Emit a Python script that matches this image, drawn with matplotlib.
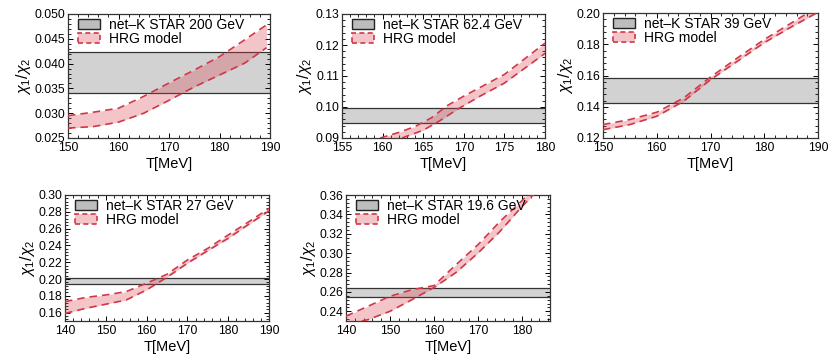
import numpy as np
import matplotlib
matplotlib.use("Agg")
import matplotlib.pyplot as plt
from matplotlib.patches import Patch
from matplotlib.ticker import MultipleLocator, AutoMinorLocator, FormatStrFormatter

plt.rcParams['font.family'] = ['Liberation Sans', 'DejaVu Sans']
plt.rcParams['mathtext.fontset'] = 'custom'
plt.rcParams['mathtext.rm'] = 'Liberation Sans'
plt.rcParams['mathtext.it'] = 'Liberation Sans:italic'

# 200 GeV
T_200 = [150, 155, 160, 165, 170, 175, 180, 185, 189.3]
up_200 = [0.0295, 0.0302, 0.0310, 0.0334, 0.0361, 0.0387, 0.0414, 0.0448, 0.0478]
lo_200 = [0.0270, 0.0273, 0.0282, 0.0300, 0.0326, 0.0353, 0.0377, 0.0401, 0.0432]
band_200 = (0.0340, 0.0423)

# 62.4 GeV
T_62_up = [159.7, 162, 164, 166, 168, 170, 175, 180]
up_62 = [0.0900, 0.0918, 0.0937, 0.0965, 0.1005, 0.1035, 0.1105, 0.1206]
T_62_lo = [162.4, 165, 167, 169.5, 172, 175, 180]
lo_62 = [0.0900, 0.0925, 0.0955, 0.0997, 0.1035, 0.1077, 0.1173]
band_62 = (0.0948, 0.0998)

# 39 GeV
T_39 = [150, 155, 160, 165, 170, 175, 180, 185, 190]
up_39 = [0.1286, 0.1318, 0.1365, 0.1456, 0.1590, 0.1712, 0.1830, 0.1935, 0.2040]
lo_39 = [0.1253, 0.1286, 0.1339, 0.1435, 0.1573, 0.1691, 0.1810, 0.1910, 0.2005]
band_39 = (0.1425, 0.1582)

# 27 GeV
T_27 = [140, 145, 150, 155, 160, 165, 170, 175, 180, 185, 190]
up_27 = [0.173, 0.178, 0.181, 0.185, 0.195, 0.2056, 0.2226, 0.2365, 0.2524, 0.268, 0.284]
lo_27 = [0.159, 0.165, 0.170, 0.175, 0.187, 0.202, 0.2187, 0.2337, 0.2484, 0.265, 0.281]
band_27 = (0.1937, 0.2016)

# 19.6 GeV
T_19_up = [140, 145, 150, 155, 160, 165, 170, 175, 180, 182]
up_19 = [0.235, 0.2452, 0.2555, 0.2623, 0.2665, 0.288, 0.3086, 0.3326, 0.354, 0.364]
T_19_lo = [143.6, 145, 150, 155, 160, 165, 170, 175, 180, 183]
lo_19 = [0.230, 0.2314, 0.240, 0.252, 0.2645, 0.280, 0.300, 0.3223, 0.348, 0.362]
band_19 = (0.2544, 0.2640)

panels = [
    ("net\u2013K STAR 200 GeV", T_200, up_200, T_200, lo_200, band_200, (150, 190), (0.025, 0.050), 10, 0.005),
    ("net\u2013K STAR 62.4 GeV", T_62_up, up_62, T_62_lo, lo_62, band_62, (155, 180), (0.09, 0.13), 5, 0.01),
    ("net\u2013K STAR 39 GeV", T_39, up_39, T_39, lo_39, band_39, (150, 190), (0.12, 0.20), 10, 0.02),
    ("net\u2013K STAR 27 GeV", T_27, up_27, T_27, lo_27, band_27, (140, 190), (0.15, 0.30), 10, 0.02),
    ("net\u2013K STAR 19.6 GeV", T_19_up, up_19, T_19_lo, lo_19, band_19, (140, 186.4), (0.23, 0.36), 10, 0.02),
]

# axes boxes in pixels: left, top, width, height
boxes = [
    (68, 14, 202, 124),
    (342, 14, 203, 124),
    (603, 13, 215, 125),
    (65, 195, 204, 126),
    (346, 195, 204, 126),
]
W, H = 831, 364

red = (0.82, 0.22, 0.28)
pink = (0.85, 0.25, 0.3, 0.3)
gray = '#d2d2d2'
edge = '#333333'

fig = plt.figure(figsize=(W / 100, H / 100), dpi=100)

for (label, tu, yu, tl, yl, band, xl, yl_lim, xstep, ystep), (l, t, w, h) in zip(panels, boxes):
    ax = fig.add_axes([l / W, 1 - (t + h) / H, w / W, h / H])
    ax.axhspan(band[0], band[1], color=gray, zorder=1, lw=0)
    ax.axhline(band[0], color=edge, lw=0.9, zorder=2)
    ax.axhline(band[1], color=edge, lw=0.9, zorder=2)

    # common grid to fill between the two dashed edges
    tt = np.union1d(tu, tl)
    ytop = np.interp(tt, tu, yu, left=np.nan)
    ybot = np.interp(tt, tl, yl, left=yl_lim[0])
    ax.fill_between(tt, ybot, ytop, color=pink, lw=0, zorder=3)
    ax.plot(tu, yu, color=red, lw=1.2, ls=(0, (4.5, 3)), zorder=4)
    ax.plot(tl, yl, color=red, lw=1.2, ls=(0, (4.5, 3)), zorder=4)

    ax.set_xlim(*xl)
    ax.set_ylim(*yl_lim)
    ax.xaxis.set_major_locator(MultipleLocator(xstep))
    ax.yaxis.set_major_locator(MultipleLocator(ystep))
    ax.xaxis.set_minor_locator(AutoMinorLocator(5))
    ax.yaxis.set_minor_locator(AutoMinorLocator(5))
    ax.tick_params(which='both', direction='in', top=True, right=True, labelsize=8.7, pad=2)
    ax.tick_params(axis='x', pad=3)
    ax.tick_params(which='major', length=3.5, width=0.7)
    ax.tick_params(which='minor', length=2, width=0.6)
    for s in ax.spines.values():
        s.set_linewidth(0.9)
        s.set_color(edge)
    fmt = '%.3f' if ystep < 0.01 else '%.2f'
    ax.yaxis.set_major_formatter(FormatStrFormatter(fmt))

    ax.set_xlabel("T[MeV]", fontsize=10.5, labelpad=2)
    ax.set_ylabel(r"$\chi_1/\chi_2$", fontsize=11.5, labelpad=1)

    h1 = Patch(facecolor='#bdbdbd', edgecolor='#222222', lw=1.0)
    h2 = Patch(facecolor=pink, edgecolor=red, lw=1.2, ls=(0, (3, 2)))
    ax.legend([h1, h2], [label, "HRG model"], loc='upper left', frameon=False,
              bbox_to_anchor=(10 / w, 1 - 4 / h),
              fontsize=10, handlelength=1.6, handleheight=0.8, handletextpad=0.65,
              labelspacing=0.0, borderaxespad=0, borderpad=0)

fig.savefig("out.png", dpi=100)
